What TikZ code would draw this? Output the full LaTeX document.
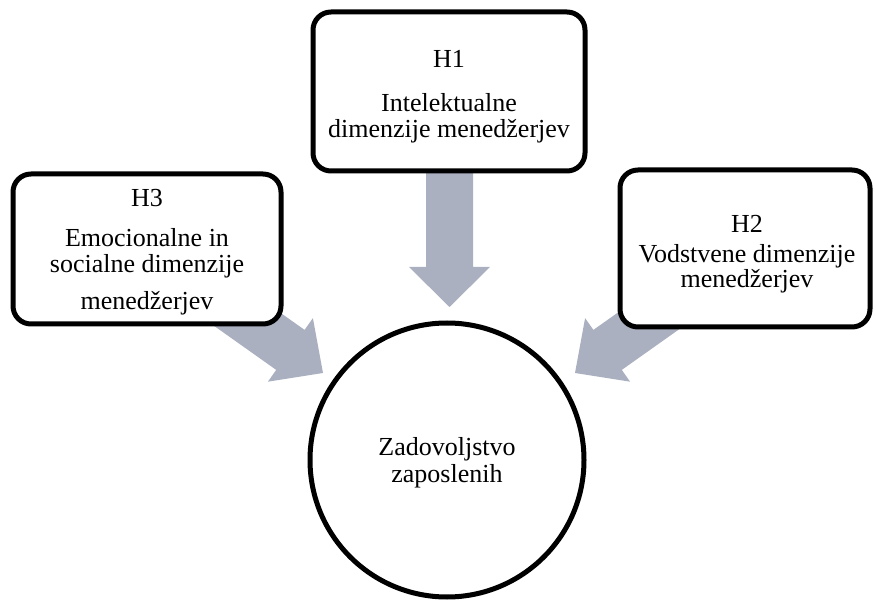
\documentclass[tikz,border=0pt]{standalone}
\usepackage{fontspec}
\setmainfont{Liberation Serif}
\definecolor{arrowgrey}{RGB}{171,176,192}
\begin{document}
\begin{tikzpicture}[x=1pt,y=-1pt,
  hbox/.style={draw=black,line width=5pt,rounded corners=18pt,fill=white},
  ring/.style={draw=black,line width=5pt,fill=white},
  blockarrow/.style={fill=arrowgrey,draw=none},
  txt/.style={anchor=base,inner sep=0pt,font=\fontsize{26}{27}\selectfont}]
\useasboundingbox (0,0) rectangle (876,601);

% block arrows (drawn first so the boxes cover their tails)
\fill[blockarrow] (426,150) -- (473,150) -- (473,267) -- (490,267) -- (449.5,307)
  -- (409,267) -- (426,267) -- cycle;
\fill[blockarrow] (231.2,277.9) -- (304.6,329.9) -- (312.9,318.1) -- (323,373)
  -- (267.9,381.7) -- (276.2,369.9) -- (202.8,317.9) -- cycle;
\fill[blockarrow] (666.8,277.9) -- (593.4,329.9) -- (585.1,318.1) -- (575,373)
  -- (630.1,381.7) -- (621.8,369.9) -- (695.2,317.9) -- cycle;

% hypothesis boxes and outcome circle
\draw[hbox] (313,12) rectangle (585,171);
\draw[hbox] (13,174) rectangle (281,324);
\draw[hbox] (620,170) rectangle (870,327);
\draw[ring] (447,460) circle (137);

% H1
\node[txt] (h1a) at (449,68) {H1};
\node[txt] (h1b) at (449,112) {Intelektualne};
\node[txt] (h1c) at (449,138) {dimenzije menedžerjev};
% H3
\node[txt] (h3a) at (147,207) {H3};
\node[txt] (h3b) at (147,247) {Emocionalne in};
\node[txt] (h3c) at (147,273) {socialne dimenzije};
\node[txt] (h3d) at (147,310) {menedžerjev};
% H2
\node[txt] (h2a) at (747,233) {H2};
\node[txt] (h2b) at (747,263) {Vodstvene dimenzije};
\node[txt] (h2c) at (747,288) {menedžerjev};
% outcome
\node[txt] (za) at (447,456) {Zadovoljstvo};
\node[txt] (zb) at (447,483) {zaposlenih};
\end{tikzpicture}
\end{document}
